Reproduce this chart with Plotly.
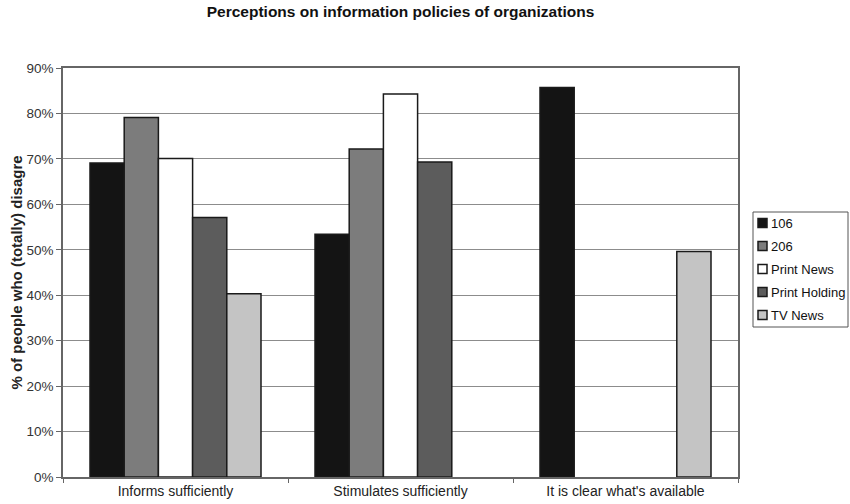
import plotly.graph_objects as go

categories = ["Informs sufficiently", "Stimulates sufficiently", "It is clear what's available"]
series_names = ["106", "206", "Print News", "Print Holding", "TV News"]
values_106 = [69.1, 53.4, 85.7]
values_206 = [79.1, 72.2, None]
values_print_news = [70.1, 84.3, None]
values_print_holding = [57.1, 69.3, None]
values_tv_news = [40.3, None, 49.6]
y_ticks = [0, 10, 20, 30, 40, 50, 60, 70, 80, 90]

series_values = [values_106, values_206, values_print_news, values_print_holding, values_tv_news]
fills = ["#141414", "#7c7c7c", "#ffffff", "#5c5c5c", "#c4c4c4"]
outline = "#1a1a1a"

W, H = 850, 504
ML, MR, MT, MB = 63, 112, 68, 27
PW, PH = W - ML - MR, H - MT - MB

fig = go.Figure()
for name, vals, col in zip(series_names, series_values, fills):
    fig.add_trace(go.Bar(
        name=name, x=categories, y=vals, showlegend=False,
        marker=dict(color=col, line=dict(color=outline, width=1.5)),
    ))

# Compact legend box to the right of the plot (pixel layout -> paper coordinates)
box_left, box_right, box_top, box_bottom = 753, 848, 212, 327
first_row, row_step, swatch = 223, 23, 9
swatch_left = 758


def px_x(px):
    return (px - ML) / PW


def px_y(py):
    return (H - MB - py) / PH


shapes = [dict(type="rect", xref="paper", yref="paper",
               x0=px_x(box_left), x1=px_x(box_right),
               y0=px_y(box_bottom), y1=px_y(box_top),
               line=dict(color="#555", width=1), fillcolor="white", layer="above")]
annotations = []
for i, (name, col) in enumerate(zip(series_names, fills)):
    cy = first_row + i * row_step
    shapes.append(dict(type="rect", xref="paper", yref="paper",
                       x0=px_x(swatch_left), x1=px_x(swatch_left + swatch),
                       y0=px_y(cy + swatch / 2), y1=px_y(cy - swatch / 2),
                       line=dict(color=outline, width=1.5), fillcolor=col, layer="above"))
    annotations.append(dict(xref="paper", yref="paper", x=px_x(swatch_left + swatch + 2),
                            y=px_y(cy), xanchor="left", yanchor="middle", showarrow=False,
                            text=name, font=dict(size=13, color="#111")))

font_family = "Liberation Sans, Arial, sans-serif"
fig.update_layout(
    width=W, height=H,
    margin=dict(l=ML, r=MR, t=MT, b=MB, autoexpand=False),
    paper_bgcolor="white", plot_bgcolor="white",
    barmode="group", bargap=0.24, bargroupgap=0,
    font=dict(family=font_family, color="#222", size=13),
    title=dict(text="<b>Perceptions on information policies of organizations</b>",
               x=0.5, xref="paper", xanchor="center",
               y=1 - 12 / H, yanchor="middle",
               font=dict(size=15.5, color="#111")),
    xaxis=dict(
        showline=True, linecolor="#666", linewidth=1.5,
        ticks="outside", tickson="boundaries", ticklen=4, tickcolor="#666",
        tickfont=dict(size=14, color="#222"),
        mirror=True, showgrid=False,
    ),
    yaxis=dict(
        range=[0, 90], tickvals=y_ticks,
        ticktext=[f"{v}%" for v in y_ticks],
        showline=True, linecolor="#666", linewidth=1.5, mirror=True,
        ticks="outside", ticklen=5, tickcolor="#666",
        showgrid=True, gridcolor="#8c8c8c", gridwidth=1,
        tickfont=dict(size=13.5, color="#333"),
        title=dict(text="<b>% of people who (totally) disagre</b>",
                   font=dict(size=15, color="#222"), standoff=0),
    ),
    shapes=shapes,
    annotations=annotations,
    showlegend=False,
)

fig.write_html("out.html")
